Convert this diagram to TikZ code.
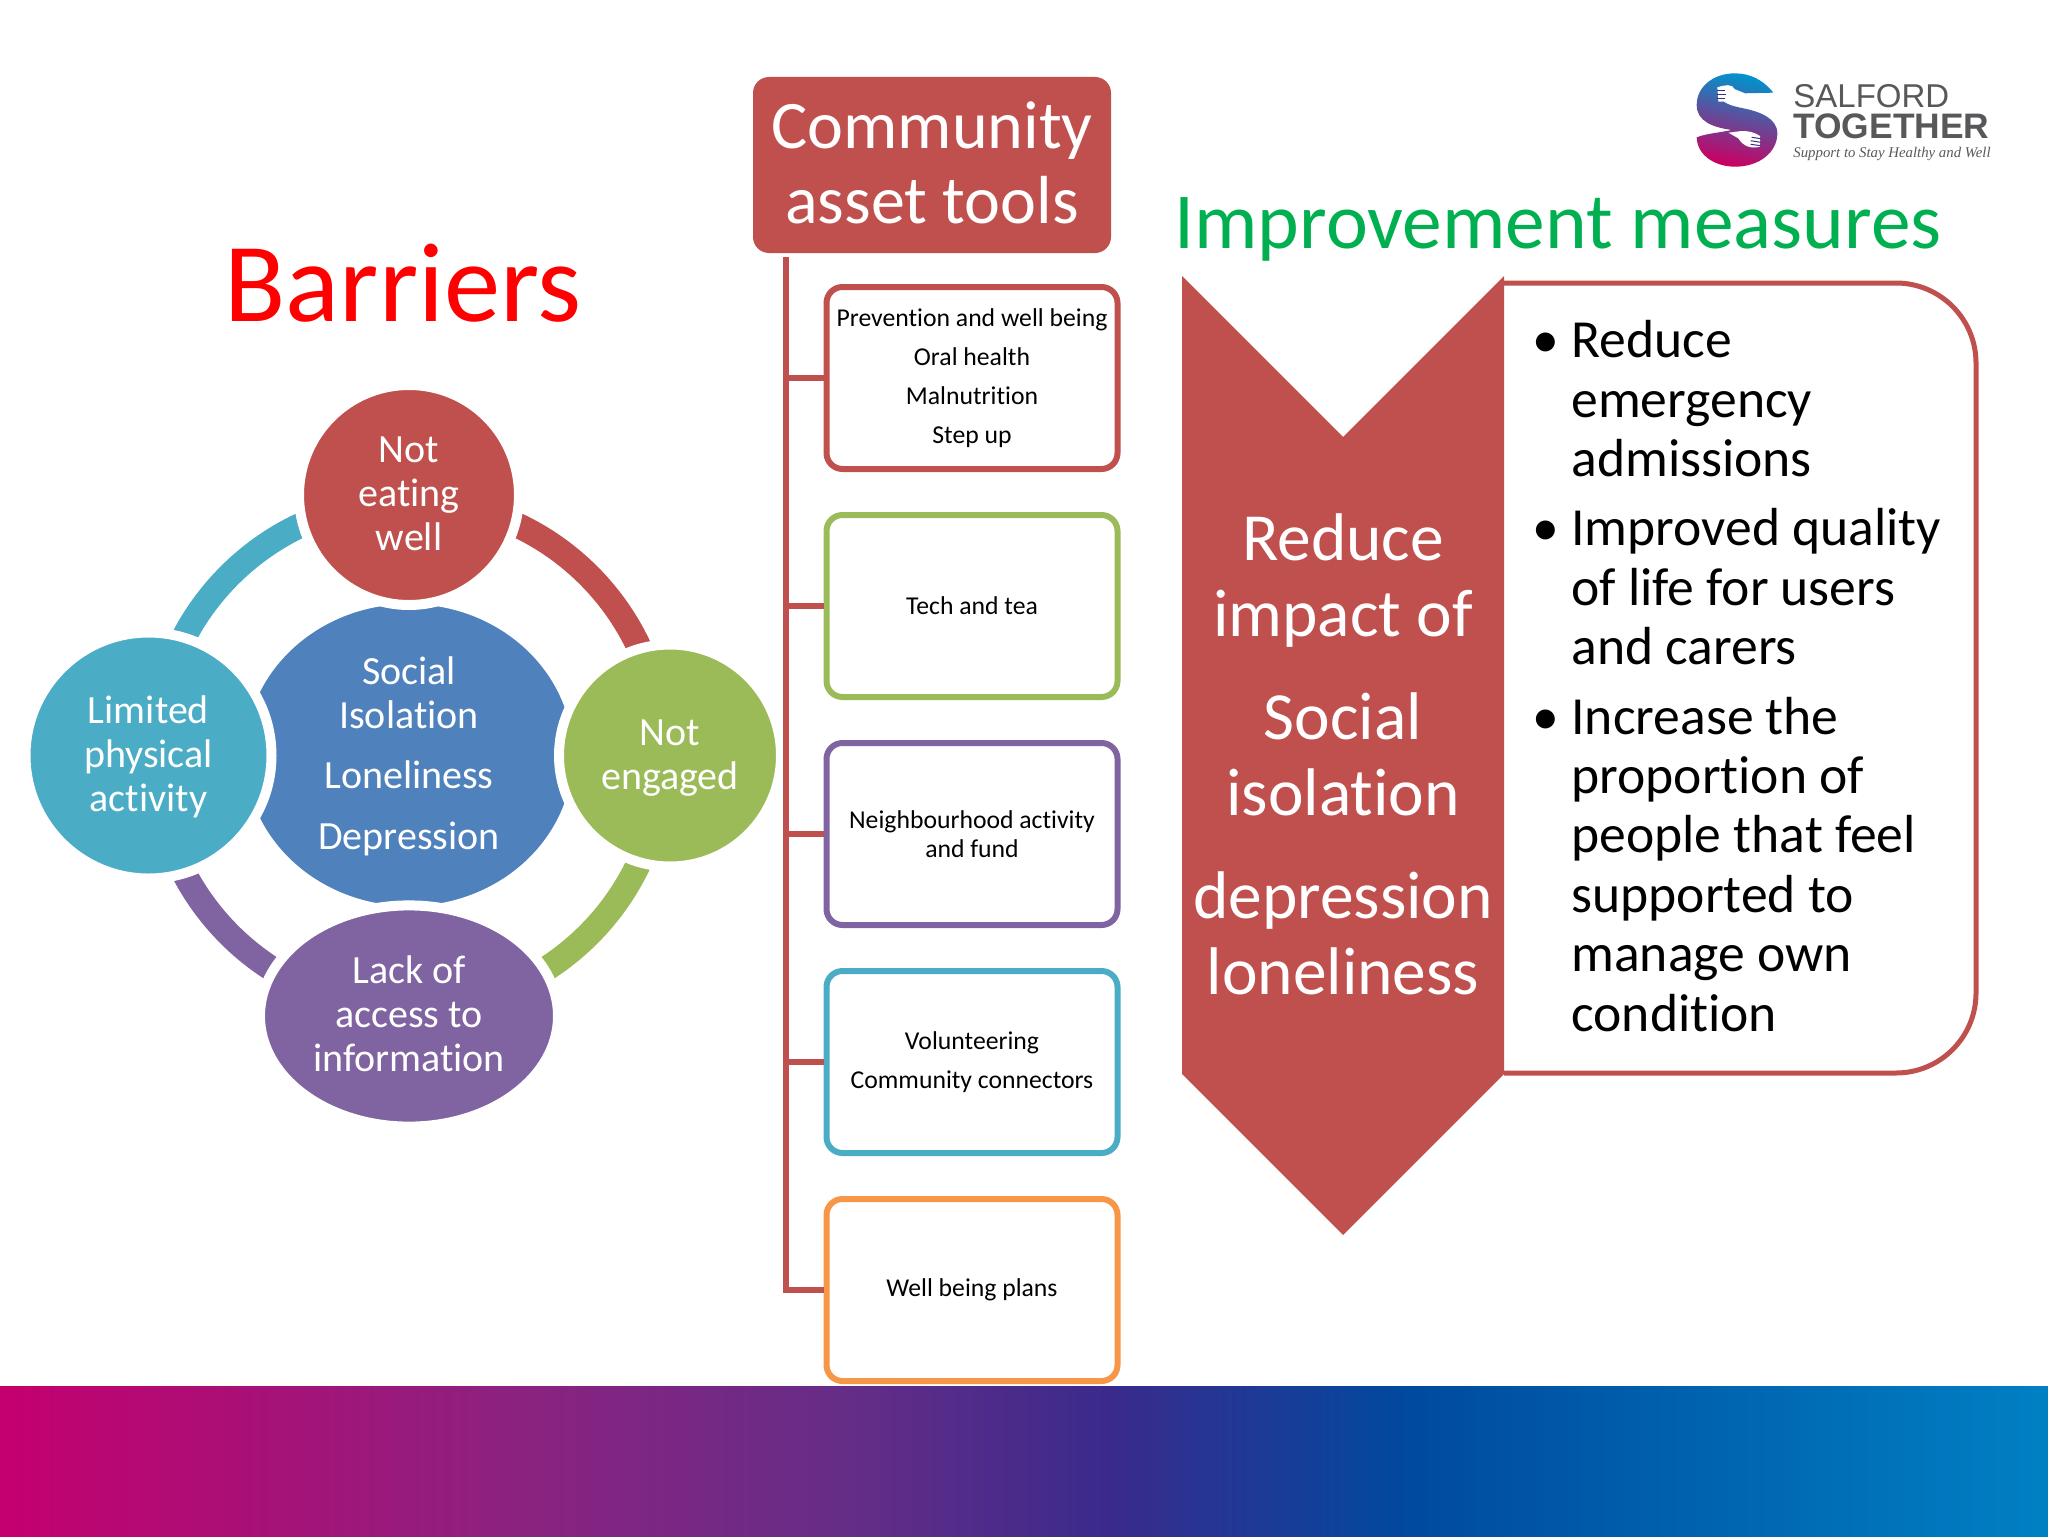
\documentclass[tikz,border=0pt]{standalone}
\usepackage{fontspec}
\setmainfont[Ligatures={NoCommon}]{Carlito}
\newfontfamily\logosans{Liberation Sans}
\newfontfamily\logoserif{Liberation Serif}
\usetikzlibrary{shapes.geometric,calc}
\definecolor{cred}{HTML}{C0504D}
\definecolor{cblue}{HTML}{4F81BD}
\definecolor{cgreen}{HTML}{9BBB59}
\definecolor{cpurple}{HTML}{8064A2}
\definecolor{cteal}{HTML}{4BACC6}
\definecolor{corange}{HTML}{F79646}
\definecolor{imgreen}{HTML}{00B050}
\definecolor{logogrey}{HTML}{58585A}
\definecolor{bc0}{HTML}{C4006E}
\definecolor{bc1}{HTML}{8B2280}
\definecolor{bc2}{HTML}{652D87}
\definecolor{bc3}{HTML}{3A2A8C}
\definecolor{bc4}{HTML}{004A9F}
\definecolor{bc5}{HTML}{0080C4}
\pgfdeclarehorizontalshading{bandshade}{100bp}{color(0bp)=(bc0); color(25bp)=(bc0); color(37.7bp)=(bc1); color(45.7bp)=(bc2); color(52.1bp)=(bc3); color(59.4bp)=(bc4); color(75bp)=(bc5); color(100bp)=(bc5)}
\newcommand\dropstrut[1]{\rule[-#1]{0pt}{#1}}
\newcommand\topstrut[1]{\rule{0pt}{#1}}
\tikzset{
  bubble/.style={ellipse,draw=white,line width=5pt,inner sep=0pt,text=white,align=center,font=\fontsize{20}{22}\selectfont},
  ringarc/.style={line width=12.5pt},
  toolbox/.style={rectangle,rounded corners=8pt,draw=#1,fill=white,line width=3pt,minimum width=145.5pt,minimum height=91pt,inner sep=0pt,align=center,text=black,font=\fontsize{12.85}{14.25}\selectfont},
  toolwide/.style={font=\fontsize{12.85}{19.5}\selectfont},
  linkline/.style={draw=cred,line width=3pt},
  chevtext/.style={text=white,align=center,font=\fontsize{33.7}{38}\selectfont},
  fingers/.style={draw=bc3,line width=0.5pt},
}
\begin{document}
\begin{tikzpicture}[x=0.5pt,y=-0.5pt]
\useasboundingbox (0,0) rectangle (2048,1536);
% bottom band
\fill[shading=bandshade] (0,1386) rectangle (2048,1536);
% titles
\node[anchor=base,text=red,inner sep=0pt,font=\fontsize{56.3}{60}\selectfont] (barriers) at (403,321) {Barriers};
\node[anchor=base,text=imgreen,inner sep=0pt,font=\fontsize{39.7}{44}\selectfont] (improve) at (1558,248) {Improvement measures};
% radial diagram
\coordinate (hub) at (409,755);
\draw[ringarc,cred] ([shift={(90:127pt)}]hub) arc[start angle=90,end angle=0,radius=127pt];
\draw[ringarc,cgreen] ([shift={(0:127pt)}]hub) arc[start angle=0,end angle=-90,radius=127pt];
\draw[ringarc,cpurple] ([shift={(-90:127pt)}]hub) arc[start angle=-90,end angle=-180,radius=127pt];
\draw[ringarc,cteal] ([shift={(180:127pt)}]hub) arc[start angle=180,end angle=90,radius=127pt];
\node[bubble,fill=cblue,minimum width=169pt,minimum height=156pt] (centre) at (hub) {\topstrut{15pt}Social\\Isolation\\[8.3pt]Loneliness\\[8.3pt]Depression};
\node[bubble,fill=cred,minimum width=110pt,minimum height=110pt] (eat) at (409,495) {Not\\eating\\well\dropstrut{1.4pt}};
\node[bubble,fill=cgreen,minimum width=111pt,minimum height=111pt] (engaged) at (670,755.5) {\topstrut{15.6pt}Not\\engaged};
\node[bubble,fill=cpurple,minimum width=149pt,minimum height=110.6pt] (lack) at (409,1016) {Lack of\\access to\\information\dropstrut{2.6pt}};
\node[bubble,fill=cteal,minimum width=123pt,minimum height=123pt] (limited) at (148.5,755.5) {\topstrut{15pt}Limited\\physical\\activity};
% community asset tools
\node[rectangle,rounded corners=8pt,fill=cred,text=white,minimum width=179pt,minimum height=88pt,inner sep=0pt,align=center,font=\fontsize{34}{37.5}\selectfont] (tools) at (932,165) {Community\\asset tools\dropstrut{2.5pt}};
\node[toolbox=cred,toolwide] (b1) at (972,378) {Prevention and well being\\Oral health\\Malnutrition\\Step up};
\node[toolbox=cgreen] (b2) at (972,606) {Tech and tea};
\node[toolbox=cpurple] (b3) at (972,834) {Neighbourhood activity\\and fund};
\node[toolbox=cteal,toolwide] (b4) at (972,1062) {Volunteering\\Community connectors};
\node[toolbox=corange] (b5) at (972,1290) {Well being plans};
\coordinate (trunktop) at (786,260);
\coordinate (trunkbot) at (786,1290);
\draw[linkline,line cap=rect] (trunktop) -- (trunkbot);
\foreach \b in {b1,b2,b3,b4,b5} \draw[linkline] (trunkbot |- \b.west) -- (\b.west);
% improvement measures
\draw[draw=cred,fill=white,line width=2.5pt,rounded corners=40pt] (1504,283) -- (1976,283) -- (1976,1073) -- (1504,1073);
\fill[cred] (1182,276) -- (1343,437) -- (1504,276) -- (1504,1074) -- (1343,1235) -- (1182,1074) -- cycle;
\node[chevtext] (impact) at (1343,754.5) {Reduce\\impact of\\[13.5pt]Social\\isolation\\[13.5pt]depression\\loneliness};
\node[anchor=north west,inner sep=0pt,align=left,text=black,font=\fontsize{26.8}{29.7}\selectfont] (measures) at (1571,320) {%
\llap{\textbullet\hspace{6.2pt}}Reduce\\emergency\\admissions\\[5pt]%
\llap{\textbullet\hspace{6.2pt}}Improved quality\\of life for users\\and carers\\[5pt]%
\llap{\textbullet\hspace{6.2pt}}Increase the\\proportion of\\people that feel\\supported to\\manage own\\condition};
% logo
\begin{scope}[shift={(1660,50)},x=0.16667pt,y=-0.16667pt]
\shade[top color=bc5!85!cyan,middle color=bc3!80!bc1,bottom color=bc0!90!red,shading angle=-12]
 (340,128) .. controls (310,90) and (270,70) .. (225,70)
 .. controls (160,70) and (110,110) .. (110,165)
 .. controls (110,215) and (160,232) .. (215,240)
 .. controls (180,248) and (140,250) .. (110,262)
 .. controls (112,320) and (170,350) .. (225,350)
 .. controls (300,350) and (352,305) .. (352,250)
 .. controls (352,205) and (300,185) .. (250,175)
 .. controls (215,168) and (185,160) .. (175,135)
 -- (250,130) -- cycle;
\fill[white] (255,130) .. controls (230,150) and (205,155) .. (175,155) -- (172,112) .. controls (195,105) and (215,100) .. (225,118) -- cycle;
\fill[white] (205,248) .. controls (235,245) and (265,235) .. (300,258) -- (300,290) .. controls (275,297) and (250,290) .. (235,265) -- cycle;
\draw[fingers] (170,122) -- (195,122) (170,133) -- (198,133) (172,144) -- (195,144);
\draw[fingers] (275,262) -- (302,266) (272,272) -- (302,277) (272,283) -- (302,287);
\end{scope}
\node[anchor=base west,inner sep=0pt,text=logogrey,font=\logosans\fontsize{16.5}{18}\selectfont] (salford) at (1793,107) {SALFORD};
\node[anchor=base west,inner sep=0pt,text=logogrey,font=\logosans\bfseries\fontsize{17.7}{19}\selectfont] (together) at (1793,139) {TOGETHER};
\node[anchor=base west,inner sep=0pt,text=logogrey,font=\logoserif\itshape\fontsize{7.4}{8}\selectfont] (tagline) at (1793,157) {Support to Stay Healthy and Well};
\end{tikzpicture}
\end{document}
